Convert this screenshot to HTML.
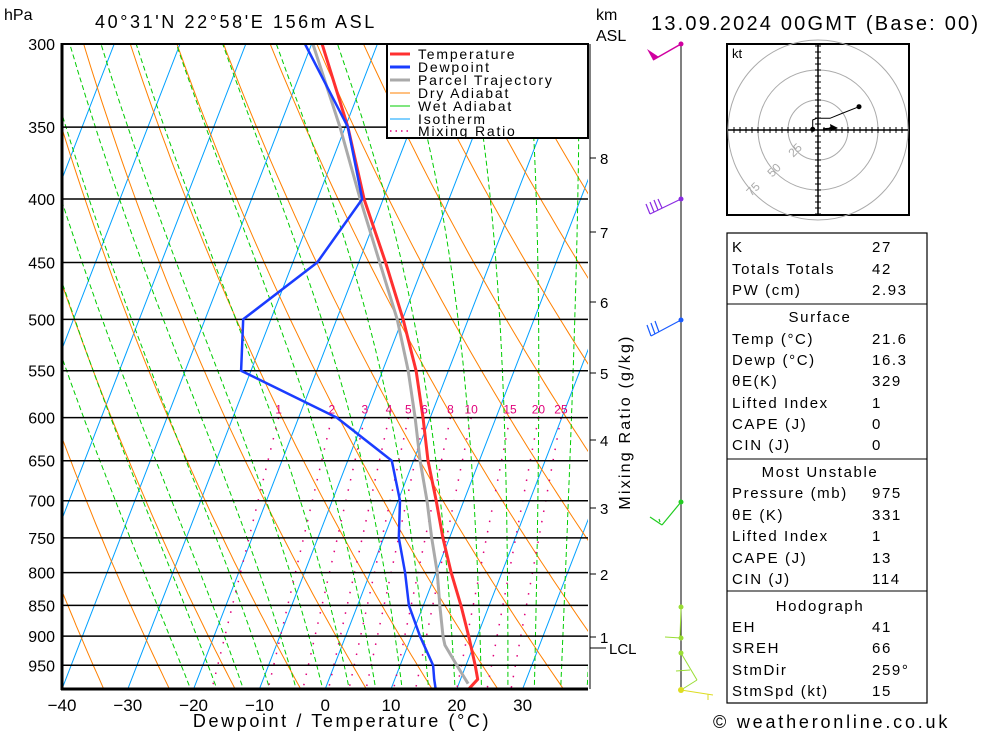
<!DOCTYPE html>
<html><head><meta charset="utf-8"><style>
html,body{margin:0;padding:0;background:#fff;}
svg{display:block;font-family:"Liberation Sans",sans-serif;}
</style></head><body>
<svg id="chart" width="1000" height="733" viewBox="0 0 1000 733" xmlns="http://www.w3.org/2000/svg">
<defs><clipPath id="pc"><rect x="62" y="44" width="526" height="645"/></clipPath></defs>
<rect x="0" y="0" width="1000" height="733" fill="#fff"/>
<g id="bg" clip-path="url(#pc)"></g>
<g id="isobars"></g>
<g id="series" clip-path="url(#pc)"></g>
<g id="axes"></g>
<text x="4" y="20" font-size="16">hPa</text>
<text x="95" y="28" font-size="18" letter-spacing="2.6">40°31'N 22°58'E 156m ASL</text>
<text x="596" y="20" font-size="16">km</text>
<text x="596" y="41" font-size="16">ASL</text>
<text x="651" y="30" font-size="20" letter-spacing="2.2">13.09.2024 00GMT (Base: 00)</text>
<text x="342" y="727" font-size="18" text-anchor="middle" letter-spacing="2.6">Dewpoint / Temperature (°C)</text>
<text transform="translate(630,422) rotate(-90)" font-size="16" text-anchor="middle" letter-spacing="2.2">Mixing Ratio (g/kg)</text>
<g font-size="14" letter-spacing="1.8">
<rect x="387" y="44" width="201" height="94" fill="#fff" stroke="#000" stroke-width="2"/>
<line x1="390" y1="54" x2="410" y2="54" stroke="#ff3030" stroke-width="3"/><text x="418" y="59">Temperature</text>
<line x1="390" y1="67" x2="410" y2="67" stroke="#1a3cff" stroke-width="3"/><text x="418" y="72">Dewpoint</text>
<line x1="390" y1="80" x2="410" y2="80" stroke="#aaa" stroke-width="3"/><text x="418" y="85">Parcel Trajectory</text>
<line x1="390" y1="93" x2="410" y2="93" stroke="#ff8000" stroke-width="1"/><text x="418" y="98">Dry Adiabat</text>
<line x1="390" y1="106" x2="410" y2="106" stroke="#00cc00" stroke-width="1"/><text x="418" y="111">Wet Adiabat</text>
<line x1="390" y1="119" x2="410" y2="119" stroke="#00a0ff" stroke-width="1"/><text x="418" y="124">Isotherm</text>
<line x1="390" y1="131" x2="410" y2="131" stroke="#e0007a" stroke-width="1.5" stroke-dasharray="1.5,4"/><text x="418" y="136">Mixing Ratio</text>
</g>
<g>
<line x1="681" y1="44" x2="681" y2="690" stroke="#000" stroke-width="1"/>
<line x1="681" y1="44" x2="653" y2="60" stroke="#d000a0" stroke-width="1.5"/>
<polygon points="647,49 653,60 659,57" fill="#d000a0"/>
<circle cx="681" cy="44" r="2.5" fill="#d000a0"/>
<g stroke="#8a2be2" stroke-width="1.2"><line x1="681" y1="199" x2="650" y2="214"/><line x1="650" y1="214" x2="646" y2="204"/><line x1="654" y1="212" x2="650" y2="202"/><line x1="658" y1="210" x2="654" y2="200"/><line x1="662" y1="208" x2="658" y2="199"/></g>
<circle cx="681" cy="199" r="2.5" fill="#8a2be2"/>
<g stroke="#1a5cff" stroke-width="1.2"><line x1="681" y1="320" x2="651" y2="336"/><line x1="651" y1="336" x2="647" y2="325"/><line x1="655" y1="334" x2="651" y2="323"/><line x1="659" y1="332" x2="655" y2="321"/></g>
<circle cx="681" cy="320" r="2.5" fill="#1a5cff"/>
<g stroke="#22cc22" stroke-width="1.2"><line x1="681" y1="502" x2="662" y2="525"/><line x1="662" y1="525" x2="650" y2="517"/><line x1="660" y1="522" x2="659" y2="519"/></g>
<circle cx="681" cy="502" r="2.5" fill="#22cc22"/>
<g stroke="#99dd33" stroke-width="1"><line x1="681" y1="607" x2="680" y2="638"/><line x1="681" y1="638" x2="665" y2="637"/><line x1="681" y1="653" x2="697" y2="680"/><line x1="697" y1="680" x2="681" y2="690"/><line x1="690" y1="670" x2="676" y2="671"/></g>
<circle cx="681" cy="607" r="2.5" fill="#99dd33"/><circle cx="681" cy="638" r="2.5" fill="#99dd33"/><circle cx="681" cy="653" r="2.5" fill="#99dd33"/>
<g stroke="#dddd22" stroke-width="1"><line x1="681" y1="690" x2="713" y2="695"/><line x1="708" y1="694" x2="708" y2="700"/></g>
<circle cx="681" cy="690" r="3" fill="#dddd22"/>
</g>
<g>
<rect x="727" y="44" width="182" height="171" fill="#fff" stroke="#000" stroke-width="2"/>
<g id="hodo"></g>
<text x="732" y="58" font-size="13">kt</text>
<g fill="#aaa" font-size="12"><text transform="translate(798,153) rotate(-45)" text-anchor="middle">25</text><text transform="translate(777,173) rotate(-45)" text-anchor="middle">50</text><text transform="translate(756,192) rotate(-45)" text-anchor="middle">75</text></g>
<polyline points="812.7,129.3 812.7,120 816.7,118.3 830,118.3 843,113 859,106.7" fill="none" stroke="#000" stroke-width="1"/>
<circle cx="812.7" cy="129.3" r="2.5"/><circle cx="859" cy="106.7" r="2.5"/>
<line x1="823" y1="129" x2="836" y2="128" stroke="#000" stroke-width="1.5"/><polygon points="838,128 830,124 831,131" fill="#000"/>
</g>
<g font-size="15" letter-spacing="1.6">
<rect x="727" y="233" width="200" height="470" fill="none" stroke="#000" stroke-width="1.2"/>
<line x1="727" y1="304" x2="927" y2="304" stroke="#000"/><line x1="727" y1="459" x2="927" y2="459" stroke="#000"/><line x1="727" y1="591" x2="927" y2="591" stroke="#000"/>
<g id="tbl"></g>
</g>
<text x="713" y="728" font-size="18" letter-spacing="2.8">© weatheronline.co.uk</text>
<script>
// data arrays
var pressures=[300,350,400,450,500,550,600,650,700,750,800,850,900,950,975,993];
var temps=[-38.4,-29.6,-22.9,-15.9,-9.9,-4.9,-1.1,2.2,5.8,9.0,12.3,15.7,18.7,21.4,22.6,21.8];
var dewps=[-41,-29.6,-23.2,-26.3,-34.2,-31.5,-14.2,-3.3,0.3,2.3,5.3,7.8,11.3,15.0,16.0,16.8];
var parcelP=[300,350,400,450,500,550,600,650,700,750,800,850,900,915,950,983];
var parcelT=[-39.8,-30.8,-23.5,-16.8,-10.8,-6.1,-2.3,1,4.4,7.3,10.2,12.5,14.8,15.6,18.6,21.4];
var isobarLabels=[300,350,400,450,500,550,600,650,700,750,800,850,900,950];
var tempTicks=[-40,-30,-20,-10,0,10,20,30];
var mixRatios=[1,2,3,4,5,6,8,10,15,20,25];
var kmLabels=[8,7,6,5,4,3,2,1];
var kmY=[158,232,302,373,440,508,574,637];
var tableRows=[["K","27"],["Totals Totals","42"],["PW (cm)","2.93"],["#Surface",""],["Temp (°C)","21.6"],["Dewp (°C)","16.3"],["θE(K)","329"],["Lifted Index","1"],["CAPE (J)","0"],["CIN (J)","0"],["#Most Unstable",""],["Pressure (mb)","975"],["θE (K)","331"],["Lifted Index","1"],["CAPE (J)","13"],["CIN (J)","114"],["#Hodograph",""],["EH","41"],["SREH","66"],["StmDir","259°"],["StmSpd (kt)","15"]];
var rowY=[246,268,289,316,338,359,380,402,423,444,471,492,514,535,557,578,605,626,647,669,690];

var NS="http://www.w3.org/2000/svg";
function Y(p){return 44+539*Math.log(p/300);}
function X(T,p){return 62+(T+40)*6.58+0.387*(689-Y(p));}
function mk(tag,attrs,parent){var e=document.createElementNS(NS,tag);for(var k in attrs)e.setAttribute(k,attrs[k]);parent.appendChild(e);return e;}
var bg=document.getElementById('bg');
for(var T=-120;T<=50;T+=10){
 var l=mk('line',{x1:X(T,993),y1:Y(993),x2:X(T,300),y2:Y(300),stroke:'#00a0ff','stroke-width':1},bg);
 
 
}
for(var th=240;th<=500;th+=10){
 var pts=[];for(var p=993;p>=300;p-=10){var t=th*Math.pow(p/1000,0.2857)-273.15;pts.push(X(t,p).toFixed(1)+','+Y(p).toFixed(1));}
 pts.push(X(th*Math.pow(0.3,0.2857)-273.15,300).toFixed(1)+','+Y(300).toFixed(1));
 var e=mk('polyline',{points:pts.join(' '),fill:'none',stroke:'#ff8000','stroke-width':1},bg);
 
 
}
function es(T){return 6.112*Math.exp(17.67*T/(T+243.5));}
function moist(T0){var pts=[],T=T0+273.15,p=1000;
 function dTdp(T,p){var rs=0.622*es(T-273.15)/(p-es(T-273.15));var Lv=2.5e6,Rd=287,Cp=1005;return (Rd*T+Lv*rs)/p/(Cp+Lv*Lv*rs*0.622/(Rd*T*T));}
 pts.push([T-273.15,1000]);
 for(p=1000;p>300;p-=5){T-=dTdp(T,p)*5;pts.push([T-273.15,p-5]);}
 return pts;}
for(var tw=-20;tw<=40;tw+=4){
 var m=moist(tw);var s=m.map(function(a){return X(a[0],a[1]).toFixed(1)+','+Y(a[1]).toFixed(1);}).join(' ');
 var e2=mk('polyline',{points:s,fill:'none',stroke:'#00cc00','stroke-width':1,'stroke-dasharray':'5,3'},bg);
 
 
}
function tdw(w,p){var e=w*p/(622+w);var a=Math.log(e/6.112);return 243.5*a/(17.67-a);}
var ax=document.getElementById('axes');
mixRatios.forEach(function(w){
 var e=mk('line',{x1:X(tdw(w,600),600),y1:Y(600),x2:X(tdw(w,993),993),y2:Y(993),stroke:'#e0007a','stroke-width':1.5,'stroke-dasharray':'1.5,9'},bg);
 
 
 var t=mk('text',{x:X(tdw(w,600),600),y:Y(600)-4,'font-size':12,fill:'#e0007a','text-anchor':'middle'},ax);
 
 
 t.textContent=w;
});
var ib=document.getElementById('isobars');
isobarLabels.forEach(function(p){
 var l=mk('line',{x1:62,y1:Y(p),x2:588,y2:Y(p),stroke:'#000','stroke-width':1.5},ib);
 
 
 var t=mk('text',{x:55,y:Y(p)+6,'font-size':16,'text-anchor':'end'},ax);
 
 
 t.textContent=p;
});
tempTicks.forEach(function(T){
 var t=mk('text',{x:62+(T+40)*6.58,y:711,'font-size':17,'text-anchor':'middle'},ax);
 
 
 t.textContent=(T<0?'\u2212':'')+Math.abs(T);
});
mk('line',{x1:62,y1:43,x2:62,y2:690,stroke:'#000','stroke-width':3},ax);
mk('line',{x1:61,y1:689,x2:588,y2:689,stroke:'#000','stroke-width':3},ax);
mk('line',{x1:62,y1:44,x2:588,y2:44,stroke:'#000','stroke-width':2},ax);
mk('line',{x1:590,y1:44,x2:590,y2:689,stroke:'#000','stroke-width':1},ax);
kmLabels.forEach(function(k,i){
 mk('line',{x1:590,y1:kmY[i],x2:596,y2:kmY[i],stroke:'#000'},ax);
 var t=mk('text',{x:600,y:kmY[i]+6,'font-size':15},ax);
 
 
 t.textContent=k;
});
mk('line',{x1:590,y1:648,x2:606,y2:648,stroke:'#000'},ax);
var lcl=mk('text',{x:609,y:654,'font-size':15},ax);lcl.textContent='LCL';


var sg=document.getElementById('series');
function line(P,V,col,w,name){var s=P.map(function(p,i){return X(V[i],p).toFixed(1)+','+Y(p).toFixed(1);}).join(' ');
 var e=mk('polyline',{points:s,fill:'none',stroke:col,'stroke-width':w,'stroke-linejoin':'round'},sg);
 
 }
line(parcelP,parcelT,'#aaa',3,'parcel-trajectory');
line(pressures,temps,'#ff3030',3,'temperature-line');
line(pressures,dewps,'#1a3cff',2.5,'dewpoint-line');
var hg=document.getElementById('hodo');var cx=818,cy=130;
[30,60,90].forEach(function(r){mk('circle',{cx:cx,cy:cy,r:r,fill:'none',stroke:'#aaa','stroke-width':1},hg);});
mk('line',{x1:728,y1:cy,x2:908,y2:cy,stroke:'#000','stroke-width':1.5},hg);
mk('line',{x1:cx,y1:45,x2:cx,y2:214,stroke:'#000','stroke-width':1.5},hg);
for(var d=-84;d<=84;d+=6){if(d==0)continue;mk('line',{x1:cx+d,y1:cy-3,x2:cx+d,y2:cy+3,stroke:'#000'},hg);mk('line',{x1:cx-3,y1:cy+d,x2:cx+3,y2:cy+d,stroke:'#000'},hg);}
var tb=document.getElementById('tbl');
tableRows.forEach(function(r,i){var y=rowY[i]+6;
 if(r[0].charAt(0)=='#'){var t=mk('text',{x:820,y:y,'text-anchor':'middle'},tb);t.textContent=r[0].slice(1);}
 else{var a=mk('text',{x:732,y:y},tb);a.textContent=r[0];var b=mk('text',{x:872,y:y},tb);b.textContent=r[1];}
});
</script>
</svg>
</body></html>
